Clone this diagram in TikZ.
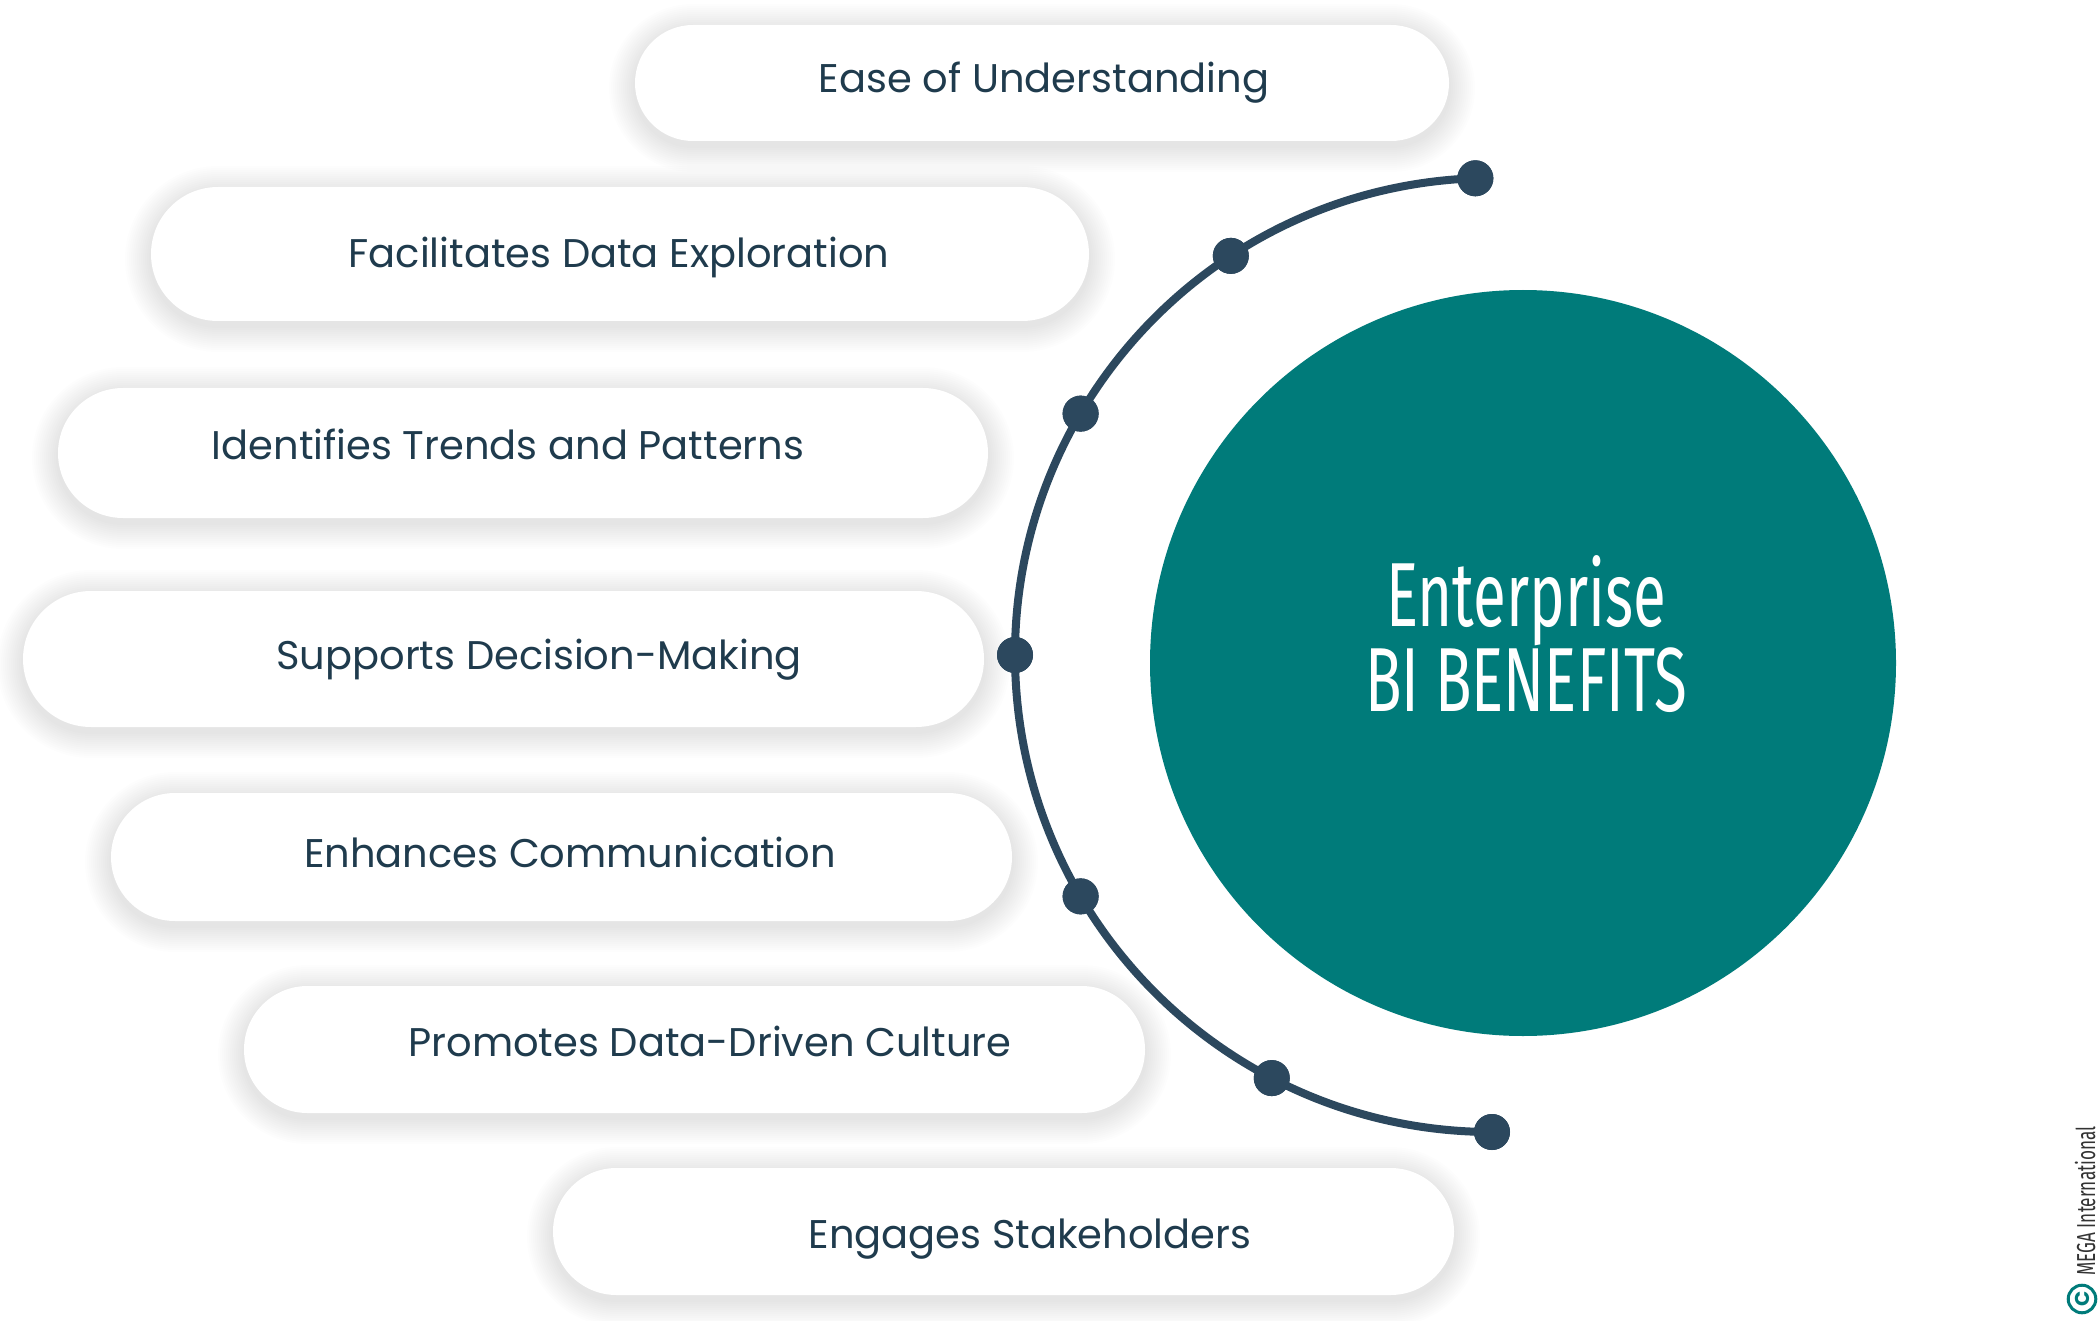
\documentclass[tikz,border=0pt]{standalone}
\usepackage{fontspec}
\setmainfont{Poppins}
\newfontfamily\condfont[FakeStretch=0.66]{Fira Sans}
\usetikzlibrary{shapes.misc}
\definecolor{tealc}{HTML}{007B7A}
\definecolor{arcc}{HTML}{2C485E}
\definecolor{txtc}{HTML}{1F3B4D}
\definecolor{cpc}{HTML}{333333}
\tikzset{
  pillbox/.style={rounded rectangle, fill=white, draw=none, inner sep=0pt},
  shadowlayer/.style={fill=black, opacity=0.0065},
  pilltext/.style={text=txtc, font=\fontsize{20}{24}\selectfont, anchor=base, inner sep=0pt},
  dotnode/.style={circle, fill=arcc, minimum size=18pt, inner sep=0pt},
  arcline/.style={draw=arcc, line width=4pt},
}
% soft shadow: centre x, centre y, width, height (all in px units)
\newcommand{\pillsh}[4]{%
  \foreach \i in {2,4,...,26}{%
    \fill[shadowlayer, rounded corners={(#4/2+\i-0.05)*0.5pt}]
      ({#1-#3/2-\i},{#2-#4/2-\i+5}) rectangle ({#1+#3/2+\i},{#2+#4/2+\i+5});
  }%
}
\begin{document}
\begin{tikzpicture}[x=0.5pt,y=-0.5pt]
\useasboundingbox[fill=white] (0,0) rectangle (2100,1321);

% shadows
\pillsh{1042}{83}{814}{116}
\pillsh{620}{254}{938}{134}
\pillsh{523}{453}{930}{130}
\pillsh{503.5}{659}{961}{136}
\pillsh{561.5}{857}{901}{128}
\pillsh{694.5}{1049.5}{901}{127}
\pillsh{1003.5}{1231.5}{901}{127}

% pills
\node[pillbox, minimum width=407pt, minimum height=58pt] (p1) at (1042,83) {};
\node[pillbox, minimum width=469pt, minimum height=67pt] (p2) at (620,254) {};
\node[pillbox, minimum width=465pt, minimum height=65pt] (p3) at (523,453) {};
\node[pillbox, minimum width=480.5pt, minimum height=68pt] (p4) at (503.5,659) {};
\node[pillbox, minimum width=450.5pt, minimum height=64pt] (p5) at (561.5,857) {};
\node[pillbox, minimum width=450.5pt, minimum height=63.5pt] (p6) at (694.5,1049.5) {};
\node[pillbox, minimum width=450.5pt, minimum height=63.5pt] (p7) at (1003.5,1231.5) {};

\node[pilltext] (t1) at (1044,93) {Ease of Understanding};
\node[pilltext] (t2) at (619,268) {Facilitates Data Exploration};
\node[pilltext] (t3) at (508,459) {Identifies Trends and Patterns};
\node[pilltext] (t4) at (539,669) {Supports Decision-Making};
\node[pilltext] (t5) at (570,867) {Enhances Communication};
\node[pilltext] (t6) at (710,1056) {Promotes Data-Driven Culture};
\node[pilltext] (t7) at (1030,1248) {Engages Stakeholders};

% big circle
\node[circle, fill=tealc, minimum size=373pt, inner sep=0pt] (bc) at (1523,663) {};
\node[text=white, font=\condfont\fontsize{45.5}{42.5}\selectfont, align=center, inner sep=0pt] (title) at (1526,634) {Enterprise\\BI BENEFITS};

% arc with dots
\coordinate (ac) at (1492,655);
\node[dotnode] (d1) at ([shift={(268:477)}]ac) {};
\node[dotnode] (d2) at ([shift={(236.8:477)}]ac) {};
\node[dotnode] (d3) at ([shift={(210.4:477)}]ac) {};
\node[dotnode] (d4) at ([shift={(180:477)}]ac) {};
\node[dotnode] (d5) at ([shift={(149.6:477)}]ac) {};
\node[dotnode] (d6) at ([shift={(117.5:477)}]ac) {};
\node[dotnode] (d7) at ([shift={(90:477)}]ac) {};
\draw[arcline] (d1.center) arc[start angle=268, end angle=90, radius=477];
\foreach \n in {d1,d2,d3,d4,d5,d6,d7} {\fill[arcc] (\n.center) circle[radius=18];}

% copyright
\node[draw=tealc, circle, line width=1.5pt, text=tealc, rotate=90, inner sep=1.2pt,
  font=\fontsize{10}{10}\selectfont\bfseries] (cpy) at (2082,1299) {C};
\node[text=cpc, rotate=90, anchor=west, inner sep=0pt,
  font=\condfont\fontsize{13}{13}\selectfont] (mega) at (2085,1276) {MEGA International};
\end{tikzpicture}
\end{document}
